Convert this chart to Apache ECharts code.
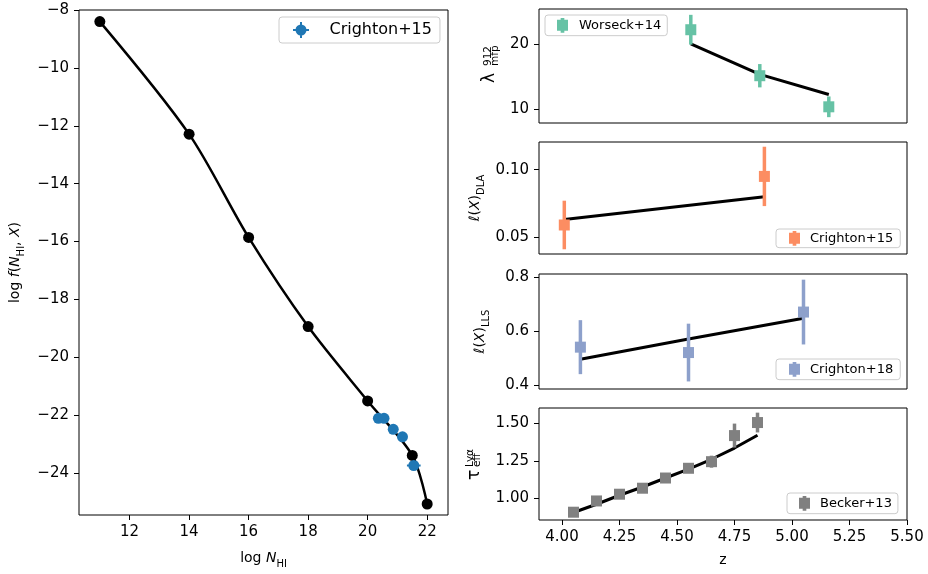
<!DOCTYPE html>
<html><head><meta charset="utf-8">
<script src="https://cdn.jsdelivr.net/npm/echarts@6/dist/echarts.min.js"></script>
<style>html,body{margin:0;padding:0;background:#fff}#c{width:928px;height:574px}</style>
</head><body><div id="c"></div>
<script>
// ---------- data ----------
const cddfLogN = [11, 14, 16, 18, 20, 21.5, 22];
const cddfLogF = [-8.40, -12.29, -15.86, -18.94, -21.51, -23.39, -25.07];
const c15LogN = [20.36, 20.55, 20.86, 21.17, 21.55];
const c15LogF = [-22.11, -22.11, -22.49, -22.75, -23.74];
const c15LogNErr = [0.08, 0.1, 0.15, 0.13, 0.23];
const c15LogFErr = [0.08, 0.07, 0.07, 0.09, 0.12];

const mfpZ = [4.56, 4.86, 5.16];
const mfpVal = [22.2, 15.1, 10.3];
const mfpErr = [2.3, 1.8, 1.6];
const mfpModel = [20.0, 15.3, 12.2];

const dlaZ = [4.01, 4.88];
const dlaVal = [0.059, 0.095];
const dlaErr = [0.018, 0.022];
const dlaModel = [0.063, 0.080];

const llsZ = [4.08, 4.55, 5.05];
const llsVal = [0.54, 0.52, 0.67];
const llsErr = [0.10, 0.107, 0.12];
const llsModel = [0.495, 0.570, 0.647];

const tauZ = [4.05, 4.15, 4.25, 4.35, 4.45, 4.55, 4.65, 4.75, 4.85];
const tauVal = [0.907, 0.982, 1.027, 1.067, 1.135, 1.200, 1.244, 1.418, 1.505];
const tauErr = [0.02, 0.02, 0.02, 0.02, 0.025, 0.03, 0.04, 0.08, 0.066];
const tauModel = [0.905, 0.96, 1.02, 1.075, 1.135, 1.195, 1.26, 1.335, 1.42];

const leftXTicks = [12, 14, 16, 18, 20, 22];
const leftYTicks = [-8, -10, -12, -14, -16, -18, -20, -22, -24];
const mfpTicks = [10, 20];
const dlaTicks = [0.05, 0.10];
const llsTicks = [0.4, 0.6, 0.8];
const tauTicks = [1.00, 1.25, 1.50];
const zTicks = [4.00, 4.25, 4.50, 4.75, 5.00, 5.25, 5.50];

// ---------- helpers ----------
const FONT = 'DejaVu Sans';
const zip = (a, b, c, d) => a.map((v, i) => d ? [v, b[i], c[i], d[i]] : c ? [v, b[i], c[i]] : [v, b[i]]);
const fmt = (v, dec) => Number(v).toFixed(dec).replace('-', '\u2212');

function valAxis(gridIndex, min, max, ticks, dec, show, extra) {
  return Object.assign({
    type: 'value', gridIndex, min, max,
    splitLine: { show: false },
    axisLine: { show: false, onZero: false },
    axisTick: show ? { show: true, customValues: ticks, length: 5, lineStyle: { color: '#000', width: 1 } } : { show: false },
    axisLabel: show ? { show: true, customValues: ticks, margin: 10, color: '#000', fontFamily: FONT, fontSize: 15, formatter: v => fmt(v, dec) } : { show: false }
  }, extra || {});
}

const richBase = {
  r: { fontFamily: FONT, fontSize: 14, color: '#000', lineHeight: 18, verticalAlign: 'top' },
  i: { fontFamily: FONT, fontSize: 14, color: '#000', lineHeight: 18, verticalAlign: 'top', fontStyle: 'italic' },
  s: { fontFamily: FONT, fontSize: 10, color: '#000', lineHeight: 10, verticalAlign: 'bottom' }
};
const nameStyle = { fontFamily: FONT, fontSize: 14, color: '#000', rich: richBase };

function vErr(color, lw) {
  return function (params, api) {
    const x = api.value(0), y = api.value(1), e = api.value(2);
    const a = api.coord([x, y - e]), b = api.coord([x, y + e]);
    return { type: 'line', shape: { x1: a[0], y1: a[1], x2: b[0], y2: b[1] }, style: { stroke: color, lineWidth: lw } };
  };
}
function xyErr(color, lw) {
  return function (params, api) {
    const x = api.value(0), y = api.value(1), ex = api.value(2), ey = api.value(3);
    const a = api.coord([x - ex, y]), b = api.coord([x + ex, y]);
    const c = api.coord([x, y - ey]), d = api.coord([x, y + ey]);
    return { type: 'group', children: [
      { type: 'line', shape: { x1: a[0], y1: a[1], x2: b[0], y2: b[1] }, style: { stroke: color, lineWidth: lw } },
      { type: 'line', shape: { x1: c[0], y1: c[1], x2: d[0], y2: d[1] }, style: { stroke: color, lineWidth: lw } }
    ] };
  };
}

const C_BLUE = '#1f77b4', C_GREEN = '#66c2a5', C_ORANGE = '#fc8d62', C_PURPLE = '#8da0cb', C_GREY = '#808080';

const iconCircle = 'path://M8,2.5A5.5,5.5 0 1 1 8,13.5A5.5,5.5 0 1 1 8,2.5Z M0,7H16V9H0Z M7,0H9V16H7Z';
const iconSquare = 'path://M4,0H8V2H12V14H8V16H4V14H0V2H4Z';

const legendBase = {
  orient: 'vertical', selectedMode: false,
  borderColor: '#cccccc', borderWidth: 1, borderRadius: 3,
  backgroundColor: 'rgba(255,255,255,0.8)'
};

function panelSeries(idx, name, color, z, val, err, model) {
  return [
    { type: 'line', xAxisIndex: idx, yAxisIndex: idx, data: zip(z, model), symbol: 'none',
      lineStyle: { color: '#000', width: 3 }, z: 2, silent: true },
    { type: 'custom', name: name + ' err', xAxisIndex: idx, yAxisIndex: idx, data: zip(z, val, err),
      encode: { x: 0, y: 1 }, renderItem: vErr(color, 3.5), z: 3, silent: true },
    { type: 'scatter', name: name, xAxisIndex: idx, yAxisIndex: idx, data: zip(z, val),
      symbol: 'rect', symbolSize: 11, itemStyle: { color: color, opacity: 1 }, z: 4 }
  ];
}

const option = {
  animation: false,
  backgroundColor: '#fff',
  grid: [
    { left: 79, top: 10, width: 369, height: 509, show: true, borderColor: '#000', borderWidth: 1 },
    { left: 539, top: 9, width: 368, height: 114, show: true, borderColor: '#000', borderWidth: 1 },
    { left: 539, top: 142, width: 368, height: 112, show: true, borderColor: '#000', borderWidth: 1 },
    { left: 539, top: 274, width: 368, height: 115, show: true, borderColor: '#000', borderWidth: 1 },
    { left: 539, top: 408, width: 368, height: 112, show: true, borderColor: '#000', borderWidth: 1 }
  ],
  xAxis: [
    valAxis(0, 10.3, 22.7, leftXTicks, 0, true, {
      name: '{r|log }{i|N}{s|HI}', nameLocation: 'middle', nameGap: 36, nameTextStyle: nameStyle }),
    valAxis(1, 3.9, 5.5, zTicks, 2, false),
    valAxis(2, 3.9, 5.5, zTicks, 2, false),
    valAxis(3, 3.9, 5.5, zTicks, 2, false),
    valAxis(4, 3.9, 5.5, zTicks, 2, true, {
      name: 'z', nameLocation: 'middle', nameGap: 33, nameTextStyle: { fontFamily: FONT, fontSize: 14, color: '#000' } })
  ],
  yAxis: [
    valAxis(0, -25.45, -8, leftYTicks, 0, true, {
      name: '{r|log }{i|f}{r|(}{i|N}{s|HI}{r|, }{i|X}{r|)}', nameLocation: 'middle', nameRotate: 90, nameGap: 53, nameTextStyle: nameStyle }),
    valAxis(1, 7.8, 25.4, mfpTicks, 0, true),
    valAxis(2, 0.0375, 0.1205, dlaTicks, 2, true, {
      name: '{i|\u2113}{r|(}{i|X}{r|)}{s|DLA}', nameLocation: 'middle', nameRotate: 90, nameGap: 53, nameTextStyle: nameStyle }),
    valAxis(3, 0.385, 0.811, llsTicks, 1, true, {
      name: '{i|\u2113}{r|(}{i|X}{r|)}{s|LLS}', nameLocation: 'middle', nameRotate: 90, nameGap: 48, nameTextStyle: nameStyle }),
    valAxis(4, 0.855, 1.602, tauTicks, 2, true)
  ],
  legend: [
    Object.assign({}, legendBase, { left: 279, top: 17, padding: [5, 8, 5, 14], itemWidth: 17, itemHeight: 16,
      data: [{ name: 'Crighton+15', icon: iconCircle }],
      textStyle: { fontFamily: FONT, fontSize: 16, color: '#000', padding: [0, 0, 0, 15] } }),
    Object.assign({}, legendBase, { left: 545, top: 15, padding: [3, 6, 3, 12], itemWidth: 11, itemHeight: 15,
      data: [{ name: 'Worseck+14', icon: iconSquare }],
      textStyle: { fontFamily: FONT, fontSize: 13, color: '#000', padding: [0, 0, 0, 6] } }),
    Object.assign({}, legendBase, { left: 776, top: 229, padding: [2, 7, 2, 13], itemWidth: 11, itemHeight: 15,
      data: [{ name: 'Crighton+15 (DLA)', icon: iconSquare }], formatter: 'Crighton+15',
      textStyle: { fontFamily: FONT, fontSize: 13, color: '#000', padding: [0, 0, 0, 5] } }),
    Object.assign({}, legendBase, { left: 776, top: 359, padding: [3, 7, 3, 13], itemWidth: 11, itemHeight: 15,
      data: [{ name: 'Crighton+18', icon: iconSquare }],
      textStyle: { fontFamily: FONT, fontSize: 13, color: '#000', padding: [0, 0, 0, 5] } }),
    Object.assign({}, legendBase, { left: 787, top: 493, padding: [3, 6, 3, 12], itemWidth: 11, itemHeight: 15,
      data: [{ name: 'Becker+13', icon: iconSquare }],
      textStyle: { fontFamily: FONT, fontSize: 13, color: '#000', padding: [0, 0, 0, 5] } })
  ],
  graphic: [
    { type: 'text', x: 490, y: 83, rotation: Math.PI / 2, z: 100,
      style: { text: '\u03bb', font: '17px "DejaVu Sans"', fill: '#000', align: 'left', verticalAlign: 'middle' } },
    { type: 'text', x: 488.6, y: 66, rotation: Math.PI / 2, z: 100,
      style: { text: '912', font: '10.5px "DejaVu Sans"', fill: '#000', align: 'left', verticalAlign: 'middle' } },
    { type: 'text', x: 495, y: 66, rotation: Math.PI / 2, z: 100,
      style: { text: 'mfp', font: '10.5px "DejaVu Sans"', fill: '#000', align: 'left', verticalAlign: 'middle' } },
    { type: 'text', x: 475, y: 480, rotation: Math.PI / 2, z: 100,
      style: { text: '\u03c4', font: '17px "DejaVu Sans"', fill: '#000', align: 'left', verticalAlign: 'middle' } },
    { type: 'text', x: 469.8, y: 467, rotation: Math.PI / 2, z: 100,
      style: { text: 'Ly\u03b1', font: '10.5px "DejaVu Sans"', fill: '#000', align: 'left', verticalAlign: 'middle' } },
    { type: 'text', x: 477, y: 467, rotation: Math.PI / 2, z: 100,
      style: { text: 'eff', font: '10.5px "DejaVu Sans"', fill: '#000', align: 'left', verticalAlign: 'middle' } }
  ],
  series: [
    { type: 'line', name: 'model f(N)', xAxisIndex: 0, yAxisIndex: 0, data: zip(cddfLogN, cddfLogF),
      smooth: 0.3,
      symbol: 'circle', symbolSize: 11, showSymbol: true, itemStyle: { color: '#000' },
      lineStyle: { color: '#000', width: 2.5 }, z: 2 },
    { type: 'custom', name: 'Crighton+15 err', xAxisIndex: 0, yAxisIndex: 0, data: zip(c15LogN, c15LogF, c15LogNErr, c15LogFErr),
      encode: { x: 0, y: 1 }, renderItem: xyErr(C_BLUE, 2), z: 3, silent: true },
    { type: 'scatter', name: 'Crighton+15', xAxisIndex: 0, yAxisIndex: 0, data: zip(c15LogN, c15LogF),
      symbol: 'circle', symbolSize: 11, itemStyle: { color: C_BLUE, opacity: 1 }, z: 4 },
    ...panelSeries(1, 'Worseck+14', C_GREEN, mfpZ, mfpVal, mfpErr, mfpModel),
    ...panelSeries(2, 'Crighton+15 (DLA)', C_ORANGE, dlaZ, dlaVal, dlaErr, dlaModel),
    ...panelSeries(3, 'Crighton+18', C_PURPLE, llsZ, llsVal, llsErr, llsModel),
    ...panelSeries(4, 'Becker+13', C_GREY, tauZ, tauVal, tauErr, tauModel)
  ]
};

const chart = echarts.init(document.getElementById('c'), null, { renderer: 'canvas' });
chart.setOption(option);
</script>
</body></html>
